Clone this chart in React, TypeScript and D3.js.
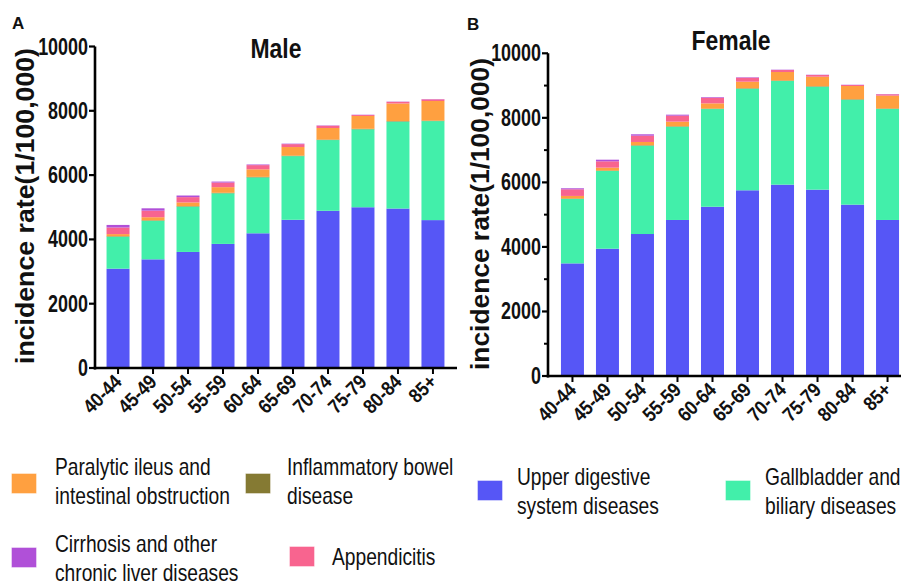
import React from "react";
import * as d3 from "d3";

const ageGroups = ["40-44", "45-49", "50-54", "55-59", "60-64", "65-69", "70-74", "75-79", "80-84", "85+"];

const seriesKeys = ["upper", "gallbladder", "ibd", "ileus", "appendicitis", "cirrhosis"];

// Male values (1/100,000)
const maleUpper = [3090, 3380, 3610, 3860, 4190, 4610, 4890, 5000, 4960, 4600];
const maleGallbladder = [995, 1200, 1410, 1575, 1740, 1980, 2200, 2425, 2705, 3080];
const maleIbd = [15, 15, 15, 15, 15, 15, 15, 15, 15, 15];
const maleIleus = [65, 95, 115, 175, 235, 268, 360, 400, 548, 610];
const maleAppendicitis = [205, 205, 165, 143, 130, 90, 70, 30, 50, 50];
const maleCirrhosis = [80, 72, 50, 30, 20, 15, 10, 8, 8, 8];

// Female values (1/100,000)
const femaleUpper = [3490, 3945, 4400, 4835, 5245, 5755, 5930, 5775, 5310, 4835];
const femaleGallbladder = [1995, 2408, 2737, 2890, 3027, 3148, 3212, 3190, 3252, 3440];
const femaleIbd = [15, 15, 15, 15, 15, 15, 15, 15, 15, 15];
const femaleIleus = [80, 88, 100, 142, 162, 202, 263, 295, 410, 397];
const femaleAppendicitis = [205, 197, 195, 185, 172, 122, 62, 52, 30, 42];
const femaleCirrhosis = [32, 50, 43, 31, 20, 15, 10, 8, 8, 8];

const yTicks = [0, 2000, 4000, 6000, 8000, 10000];
const yMinorTicks = [1000, 3000, 5000, 7000, 9000];

const colors: Record<string, string> = {
  upper: "#5656f6",
  gallbladder: "#42efaa",
  ibd: "#857a33",
  ileus: "#ffa040",
  appendicitis: "#f8648f",
  cirrhosis: "#b050d8",
};

const legendItems = [
  { key: "ileus", lines: ["Paralytic ileus and", "intestinal obstruction"], sx: 12, sy: 474, tx: 55, ty: 475 },
  { key: "ibd", lines: ["Inflammatory bowel", "disease"], sx: 246, sy: 474, tx: 287, ty: 475 },
  { key: "upper", lines: ["Upper digestive", "system diseases"], sx: 478, sy: 481, tx: 517, ty: 485 },
  { key: "gallbladder", lines: ["Gallbladder and", "biliary diseases"], sx: 726, sy: 481, tx: 765, ty: 485 },
  { key: "cirrhosis", lines: ["Cirrhosis and other", "chronic liver diseases"], sx: 12, sy: 548, tx: 55, ty: 552 },
  { key: "appendicitis", lines: ["Appendicitis"], sx: 290, sy: 547, tx: 332, ty: 565 },
];

function buildRows(
  upper: number[], gb: number[], ibd: number[], ileus: number[], app: number[], cir: number[]
) {
  return ageGroups.map((g, i) => ({
    group: g,
    upper: upper[i],
    gallbladder: gb[i],
    ibd: ibd[i],
    ileus: ileus[i],
    appendicitis: app[i],
    cirrhosis: cir[i],
  }));
}

const FONT = "Arial, 'Liberation Sans', Helvetica, sans-serif";

type PanelProps = {
  rows: any[];
  x0: number;
  x1: number;
  padOuter: number;
  y0: number;
  y1: number;
  title: string;
  titleX: number;
  titleY: number;
  letter: string;
  letterX: number;
  letterY: number;
  ylabelX: number;
  ylabelY: number;
  ylabelLen: number;
  minor: boolean;
  axisEnd: number;
};

function Panel(p: PanelProps) {
  const x = d3
    .scaleBand<string>()
    .domain(ageGroups)
    .range([p.x0, p.x1])
    .paddingInner(0.343)
    .paddingOuter(p.padOuter);
  const y = d3.scaleLinear().domain([0, 10000]).range([p.y0, p.y1]);
  const stack = d3.stack<any>().keys(seriesKeys);
  const layers = stack(p.rows);
  return (
    <g>
      {layers.map((layer) => (
        <g key={layer.key} fill={colors[layer.key]}>
          {layer.map((d, i) => (
            <rect
              key={i}
              x={x(ageGroups[i])}
              width={x.bandwidth()}
              y={y(d[1])}
              height={Math.max(0, y(d[0]) - y(d[1]))}
            />
          ))}
        </g>
      ))}
      {/* Y axis */}
      <line x1={p.x0} x2={p.x0} y1={y(0) + 1.5} y2={y(10000)} stroke="#000" strokeWidth={2.6} />
      {yTicks.map((t) => (
        <g key={t}>
          <line x1={p.x0 - 6} x2={p.x0} y1={y(t)} y2={y(t)} stroke="#000" strokeWidth={2.2} />
          <text
            transform={`translate(${p.x0 - 7},${y(t) + 8}) scale(0.78,1)`}
            textAnchor="end"
            fontFamily={FONT}
            fontWeight="bold"
            fontSize={23}
            fill="#111"
          >
            {t}
          </text>
        </g>
      ))}
      {p.minor &&
        yMinorTicks.map((t) => (
          <line key={t} x1={p.x0 - 4} x2={p.x0} y1={y(t)} y2={y(t)} stroke="#000" strokeWidth={2} />
        ))}
      {/* X axis */}
      <line x1={p.x0 - 1.3} x2={p.axisEnd} y1={y(0)} y2={y(0)} stroke="#000" strokeWidth={2.6} />
      {ageGroups.map((g) => {
        const cx = (x(g) as number) + x.bandwidth() / 2;
        return (
          <g key={g}>
            <line x1={cx} x2={cx} y1={y(0)} y2={y(0) + 6} stroke="#000" strokeWidth={2} />
            <text
              transform={`translate(${cx + 5},${y(0) + 15}) rotate(-45) scale(0.88,1)`}
              textAnchor="end"
              fontFamily={FONT}
              fontWeight="bold"
              fontSize={20}
              fill="#111"
            >
              {g}
            </text>
          </g>
        );
      })}
      <text
        transform={`translate(${p.titleX},${p.titleY}) scale(0.82,1)`}
        textAnchor="middle"
        fontFamily={FONT}
        fontWeight="bold"
        fontSize={28}
        fill="#111"
      >
        {p.title}
      </text>
      <text x={p.letterX} y={p.letterY} fontFamily={FONT} fontWeight="bold" fontSize={17} fill="#111">
        {p.letter}
      </text>
      <text
        transform={`translate(${p.ylabelX},${p.ylabelY}) rotate(-90)`}
        textAnchor="middle"
        fontFamily={FONT}
        fontWeight="bold"
        fontSize={25}
        textLength={p.ylabelLen}
        lengthAdjust="spacingAndGlyphs"
        fill="#111"
      >
        incidence rate(1/100,000)
      </text>
    </g>
  );
}

export default function App() {
  const maleRows = buildRows(maleUpper, maleGallbladder, maleIbd, maleIleus, maleAppendicitis, maleCirrhosis);
  const femaleRows = buildRows(femaleUpper, femaleGallbladder, femaleIbd, femaleIleus, femaleAppendicitis, femaleCirrhosis);
  return (
    <svg
      width={901}
      height={586}
      style={{ position: "absolute", left: 0, top: 0, background: "#fff" }}
    >
      <rect width={901} height={586} fill="#fff" />
      <Panel
        rows={maleRows}
        x0={95}
        x1={456}
        padOuter={0.33}
        y0={368}
        y1={46.5}
        title="Male"
        titleX={276}
        titleY={58}
        letter="A"
        letterX={12}
        letterY={29}
        ylabelX={34}
        ylabelY={206}
        ylabelLen={316}
        minor={false}
        axisEnd={457}
      />
      <Panel
        rows={femaleRows}
        x0={548}
        x1={912}
        padOuter={0.37}
        y0={376}
        y1={53.3}
        title="Female"
        titleX={731}
        titleY={50}
        letter="B"
        letterX={467}
        letterY={30}
        ylabelX={489}
        ylabelY={214}
        ylabelLen={312}
        minor={true}
        axisEnd={901}
      />
      {legendItems.map((it) => (
        <g key={it.key}>
          <rect x={it.sx} y={it.sy} width={24} height={19} fill={colors[it.key]} stroke={colors[it.key]} strokeOpacity={0.6} />
          {it.lines.map((ln, i) => (
            <text
              key={i}
              transform={`translate(${it.tx},${it.ty + i * 29}) scale(0.8,1)`}
              fontFamily={FONT}
              fontSize={24}
              fill="#111"
            >
              {ln}
            </text>
          ))}
        </g>
      ))}
    </svg>
  );
}
